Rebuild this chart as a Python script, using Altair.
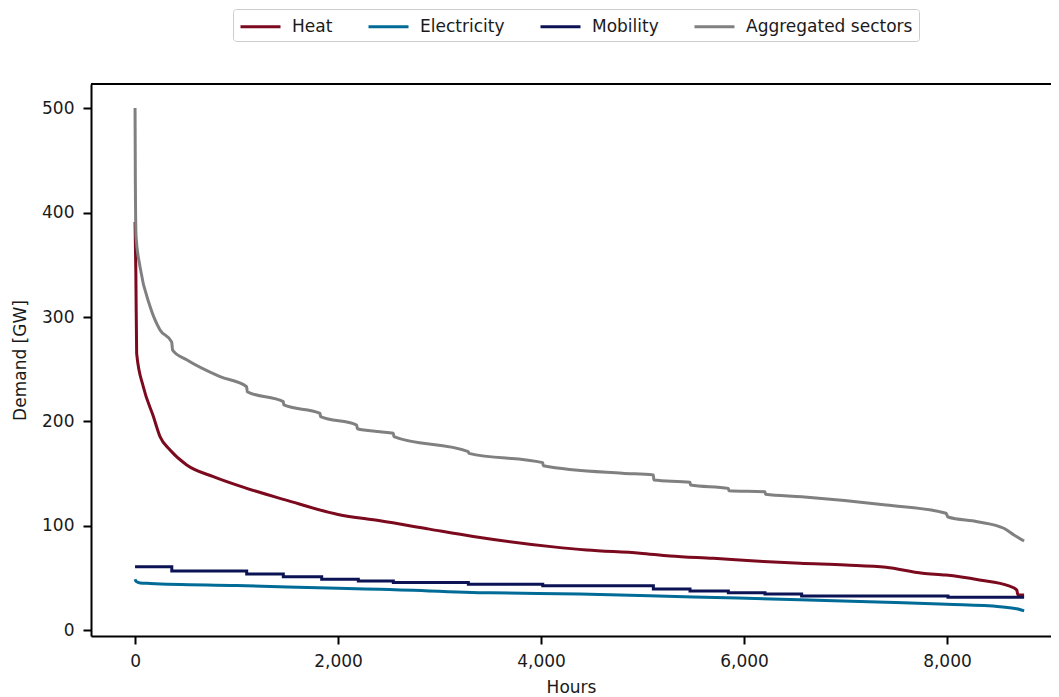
import altair as alt
import pandas as pd

# ---- data (hours, demand in GW) ----
heat_hours = [0, 8, 16, 82, 180, 246, 345, 509, 771, 1100, 1480, 2000, 2414, 2900, 3333,
              4121, 4450, 4975, 5271, 5698, 6190, 6552, 7000, 7400, 7760, 7990, 8320,
              8610, 8687, 8700, 8760]
heat_values = [391, 342, 265, 233, 205, 185.5, 172.7, 158.4, 147.2, 136, 125, 111, 105, 97, 90,
               80, 77, 74, 71.3, 69, 66, 64.3, 62.7, 60.5, 54.7, 53, 48.3,
               42.6, 38.8, 34, 34]

elec_hours = [0, 10, 50, 150, 1000, 2000, 2414, 3500, 4384, 5500, 6550, 7400, 8000, 8520, 8700, 8760]
elec_values = [49, 47, 45.5, 45, 43, 40.4, 39.4, 36, 34.9, 32, 29.5, 27, 25, 22.8, 20.5, 18.7]

mob_hours = [0, 362, 1100, 1461, 1839, 2200, 2545, 3284, 4017, 5107, 5468, 5846, 6207, 6568, 8010, 8760]
mob_values = [61, 57, 54, 51.5, 49, 47.4, 45.8, 44.2, 42.9, 39.7, 37.8, 36.2, 34.8, 33, 31.8, 31.8]

agg_hours = [0, 3, 10, 49, 148, 246, 361, 370, 509, 837, 1100, 1105, 1461, 1466, 1823, 1828,
             2184, 2190, 2414, 2545, 2550, 3284, 3290, 4017, 4022, 4800, 5107, 5112, 5468, 5473,
             5846, 5851, 6207, 6212, 6568, 7400, 7990, 8010, 8300, 8560, 8660, 8760]
agg_values = [500, 430, 377, 348, 310, 287.6, 276, 268.4, 259, 242.9, 233.3, 228.5, 219, 215.8, 207.8, 204.6,
              196.6, 193, 190.2, 188.7, 185.5, 171.1, 169.5, 160.6, 157.7, 150.5, 148.8, 144, 141.8, 139.2,
              136, 133.8, 132.8, 130.3, 128, 120, 112.2, 108.6, 104.1, 97.8, 91.4, 85.6]

series_order = ["Heat", "Electricity", "Mobility", "Aggregated sectors"]
series_colors = ["#7b0a1e", "#006b96", "#0b1354", "#808080"]

rows = []
for name, hs, vs in [("Heat", heat_hours, heat_values),
                     ("Electricity", elec_hours, elec_values),
                     ("Mobility", mob_hours, mob_values),
                     ("Aggregated sectors", agg_hours, agg_values)]:
    for i, (h, v) in enumerate(zip(hs, vs)):
        rows.append({"series": name, "hours": h, "demand": v, "order": i})
df = pd.DataFrame(rows)

FONT = "DejaVu Sans"
W, H = 960, 552

legend = alt.Legend(
    orient="none", legendX=142, legendY=-75, direction="horizontal", columns=4,
    title=None, symbolType="M-2,0H2", symbolSize=400, symbolStrokeWidth=3,
    symbolOffset=10,
    labelFont=FONT, labelFontSize=17, labelColor="#1a1a1a", labelOffset=20,
    labelLimit=400, columnPadding=29, padding=6, strokeColor="#cccccc", cornerRadius=3,
    fillColor="white",
)

color = alt.Color("series:N", scale=alt.Scale(domain=series_order, range=series_colors),
                  legend=legend)

x = alt.X("hours:Q",
          scale=alt.Scale(domain=[-434, 9025], nice=False, zero=False),
          axis=alt.Axis(values=[0, 2000, 4000, 6000, 8000], format=",.0f", title="Hours",
                        grid=False, tickSize=8, tickWidth=2, tickColor="black",
                        domainColor="black", domainWidth=2,
                        labelFont=FONT, labelFontSize=17, labelColor="#1a1a1a", labelPadding=9,
                        titleFont=FONT, titleFontSize=17, titleFontWeight="normal",
                        titleColor="#1a1a1a", titlePadding=10))
y = alt.Y("demand:Q",
          scale=alt.Scale(domain=[-5.3, 523], nice=False, zero=False),
          axis=alt.Axis(values=[0, 100, 200, 300, 400, 500], title="Demand [GW]",
                        grid=False, tickSize=8, tickWidth=2, tickColor="black",
                        domainColor="black", domainWidth=2,
                        labelFont=FONT, labelFontSize=17, labelColor="#1a1a1a", labelPadding=9,
                        titleFont=FONT, titleFontSize=17, titleFontWeight="normal",
                        titleColor="#1a1a1a", titlePadding=12))

layers = []
for name in series_order:
    interp = "step-after" if name == "Mobility" else "monotone"
    layers.append(
        alt.Chart(df)
        .transform_filter(alt.datum.series == name)
        .mark_line(strokeWidth=3, interpolate=interp)
        .encode(x=x, y=y, color=color, order="order:Q")
    )

top_border = alt.Chart(pd.DataFrame({"a": [0]})).mark_rule(color="black", strokeWidth=2).encode(
    x=alt.value(0), x2=alt.value(W), y=alt.value(0)
)

chart = (
    alt.layer(*layers, top_border)
    .properties(width=W, height=H,
                autosize=alt.AutoSizeParams(type="none"),
                padding={"left": 83, "top": 76, "right": 0, "bottom": 64})
    .configure_view(stroke="transparent")
    .configure(background="white")
)

chart.save("out.html", embed_options={"renderer": "svg", "actions": False})
